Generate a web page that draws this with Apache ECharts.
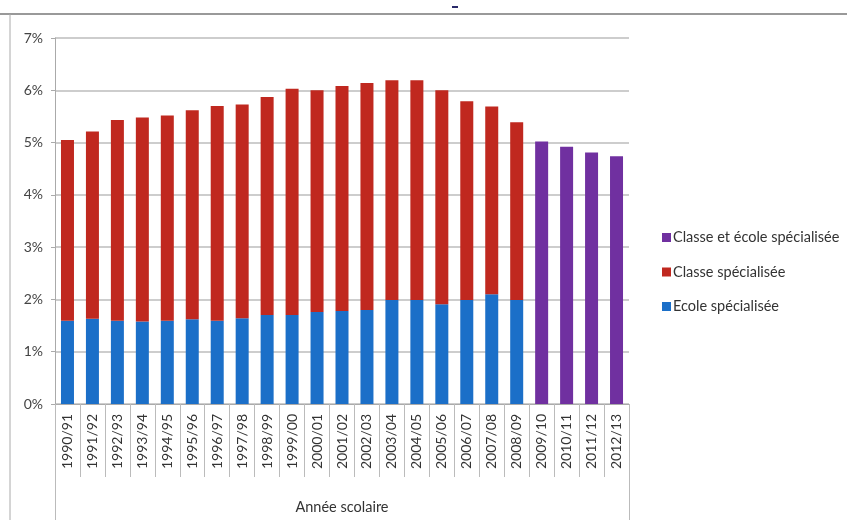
<!DOCTYPE html>
<html><head><meta charset="utf-8">
<script src="https://cdn.jsdelivr.net/npm/echarts@6/dist/echarts.min.js"></script>
<style>html,body{margin:0;padding:0;background:#fff}#c{width:847px;height:520px}</style>
</head><body><div id="c"></div>
<script>
const categories = ['1990/91','1991/92','1992/93','1993/94','1994/95','1995/96','1996/97','1997/98','1998/99','1999/00','2000/01','2001/02','2002/03','2003/04','2004/05','2005/06','2006/07','2007/08','2008/09','2009/10','2010/11','2011/12','2012/13'];
const ecole = [1.59,1.63,1.59,1.58,1.59,1.62,1.59,1.64,1.70,1.70,1.76,1.78,1.80,1.99,1.99,1.91,1.99,2.10,1.99,'-','-','-','-'];
const classe = [3.46,3.58,3.84,3.90,3.93,4.00,4.11,4.09,4.17,4.33,4.24,4.30,4.34,4.20,4.20,4.09,3.80,3.59,3.40,'-','-','-','-'];
const classeEtEcole = ['-','-','-','-','-','-','-','-','-','-','-','-','-','-','-','-','-','-','-',5.02,4.92,4.81,4.74];
const yTicks = [0,1,2,3,4,5,6,7];

const chart = echarts.init(document.getElementById('c'), null, {renderer:'canvas'});
const font = 'Lato, "Open Sans", sans-serif';
chart.setOption({
  animation:false,
  textStyle:{fontFamily:font},
  grid:{left:55,right:218,top:38,bottom:113},
  legend:{
    orient:'vertical', left:657, top:225, itemGap:19.5, itemWidth:9, itemHeight:9,
    icon:'rect',
    textStyle:{fontFamily:font,fontSize:14.5,color:'#333',padding:[0,0,0,-3]},
    data:['Classe et école spécialisée','Classe spécialisée','Ecole spécialisée']
  },
  xAxis:{
    type:'category', data:categories, boundaryGap:true,
    name:'Année scolaire', nameLocation:'middle', nameGap:96,
    nameTextStyle:{fontFamily:font,fontSize:14.5,color:'#333'},
    axisLine:{lineStyle:{color:'#aaa',width:1}},
    axisTick:{show:true,length:73,alignWithLabel:false,lineStyle:{color:'#bbb'}},
    axisLabel:{rotate:90,fontSize:14,color:'#333',margin:10,fontFamily:font,interval:0}
  },
  yAxis:{
    type:'value', min:0, max:7, interval:1,
    axisLabel:{formatter:'{value}%',fontSize:14,color:'#444',margin:12,fontFamily:font},
    axisLine:{show:true,lineStyle:{color:'#aaa'}},
    axisTick:{show:true,length:4,lineStyle:{color:'#aaa'}},
    splitLine:{lineStyle:{color:'#bdbdbd',width:1.5}}
  },
  series:[
    {name:'Ecole spécialisée',type:'bar',stack:'s',data:ecole,barWidth:13,itemStyle:{color:'#1b6fc8'}},
    {name:'Classe spécialisée',type:'bar',stack:'s',data:classe,barWidth:13,itemStyle:{color:'#c0281f'}},
    {name:'Classe et école spécialisée',type:'bar',stack:'s',data:classeEtEcole,barWidth:13,itemStyle:{color:'#7030a0'}}
  ],
  graphic:[
    {type:'line',shape:{x1:0,y1:14,x2:847,y2:14},style:{stroke:'#999',lineWidth:2}},
    {type:'line',shape:{x1:10,y1:14,x2:10,y2:520},style:{stroke:'#aaa',lineWidth:1}},
    {type:'line',shape:{x1:55.5,y1:407,x2:55.5,y2:520},style:{stroke:'#bbb',lineWidth:1}},
    {type:'line',shape:{x1:629.5,y1:407,x2:629.5,y2:520},style:{stroke:'#bbb',lineWidth:1}},
    {type:'rect',shape:{x:452,y:6,width:6,height:2},style:{fill:'#2a2a6a'}}
  ]
});
</script></body></html>
